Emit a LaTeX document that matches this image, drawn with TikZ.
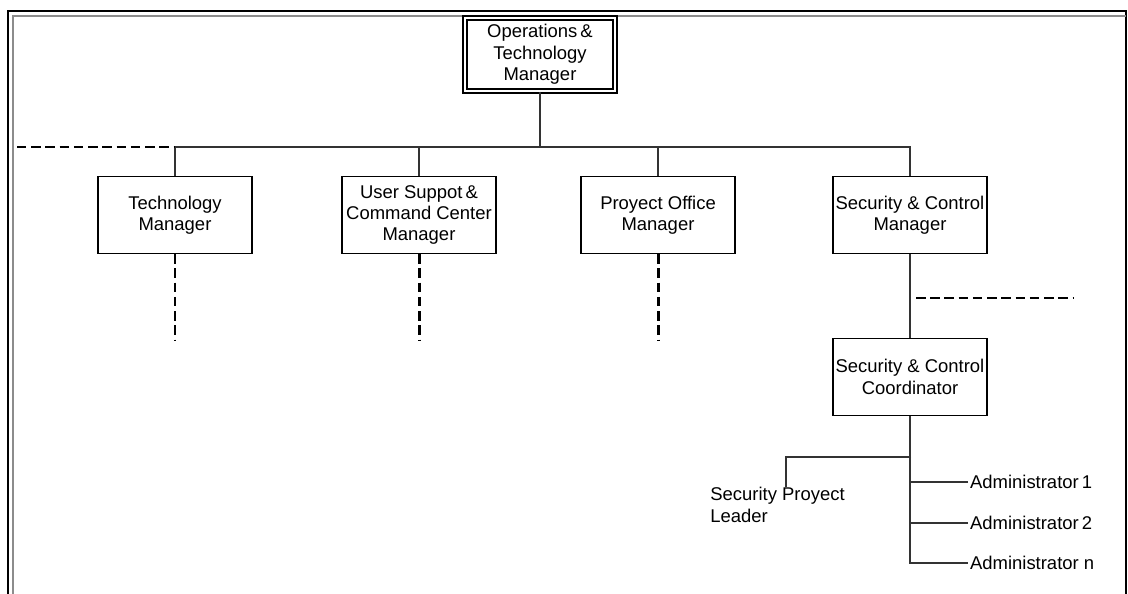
\documentclass[tikz,border=0pt]{standalone}
\usepackage{fontspec}
\setmainfont{Liberation Sans}
\usetikzlibrary{calc}

\begin{document}
\begin{tikzpicture}[x=0.02cm, y=-0.02cm,
    font=\fontsize{10.5}{12.2}\selectfont,
    role/.style={draw, line width=0.8pt, align=center, inner sep=1pt,
        minimum width=3.08cm, minimum height=1.54cm},
    head/.style={role, double, double distance=1.5pt, line width=0.8pt,
        minimum width=3.0cm, minimum height=1.46cm},
    link/.style={draw=black!80, line width=0.6pt},
    vacant/.style={line width=1.7pt, dash pattern=on 5.4pt off 2.7pt},
    staff/.style={anchor=west, inner sep=1pt}]
    \useasboundingbox (0,0) rectangle (1128,594);

    % Frame
    \draw[line width=0.9pt] (8,600) -- (8,11) -- (1126,11) -- (1126,600);
    \draw[black!45, line width=0.6pt] (13,600) -- (13,16) -- (1126,16);

    % Top
    \node[head] (ops) at (540,54.5) {Operations\,\&\\Technology\\Manager};

    % Managers
    \node[role] (tech) at (175,215) {Technology\\Manager};
    \node[role] (user) at (419,215) {User Suppot\,\&\\Command Center\\Manager};
    \node[role] (proj) at (658,215) {Proyect Office\\Manager};
    \node[role] (sec)  at (910,215) {Security \& Control\\Manager};

    \coordinate (bus) at (540,147);
    \coordinate (busend) at (17,147);
    \draw[link] (ops) -- (bus);
    \draw[link] (tech.north) |- (sec.north |- bus) -- (sec.north);
    \draw[link] (user.north) -- (user.north |- bus);
    \draw[link] (proj.north) -- (proj.north |- bus);
    \draw[vacant] (busend) -- (tech.north |- bus);

    % Open positions below
    \draw[vacant] (tech.south) -- ++(0,87);
    \draw[vacant] (user.south) -- ++(0,87);
    \draw[vacant] (proj.south) -- ++(0,87);

    % Security branch
    \node[role] (coord) at (910,377) {Security \& Control\\Coordinator};
    \draw[link] (sec) -- (coord);
    \coordinate (sideA) at (916,298);
    \coordinate (sideB) at (1074,298);
    \draw[vacant] (sideA) -- (sideB);

    \node[staff] (adm1) at (968,482) {Administrator\,1};
    \node[staff] (adm2) at (968,523) {Administrator\,2};
    \node[staff] (admn) at (968,563) {Administrator n};
    \node[anchor=north west, inner sep=0pt, align=left] (leader) at (710,487)
        {Security Proyect\\Leader};

    \coordinate (fork) at (911,457);
    \draw[link] (coord.south) |- (admn.west);
    \draw[link] (adm1.west) -- (adm1.west -| coord.south);
    \draw[link] (adm2.west) -- (adm2.west -| coord.south);
    \draw[link] (fork) -| ([xshift=1.52cm]leader.north west);
\end{tikzpicture}
\end{document}
